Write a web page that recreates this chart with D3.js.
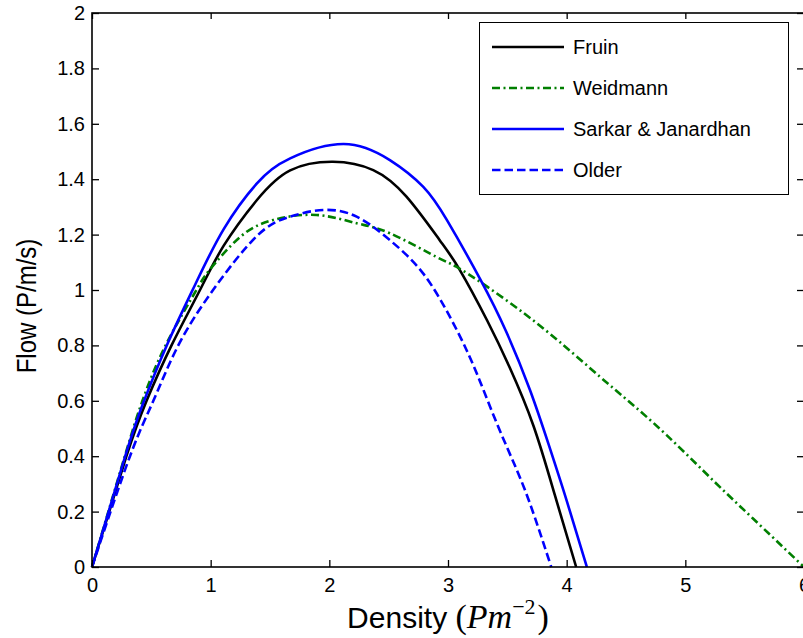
<!DOCTYPE html>
<html>
<head>
<meta charset="utf-8">
<script src="https://cdn.jsdelivr.net/npm/d3@7"></script>
<style>
  body { margin: 0; background: #fff; }
  text { font-family: "Liberation Sans", Arial, sans-serif; }
</style>
</head>
<body>
<div id="vis"></div>
<script>
// values (density in P/m^2, flow in P/m/s)
const fruinK = [0, 0.29, 0.46, 0.67, 0.91, 1.11, 1.39, 1.67, 2.03, 2.37, 2.65, 2.93, 3.10, 3.33, 3.52, 3.72, 3.90, 4.08];
const fruinQ = [0, 0.4, 0.6, 0.8, 1.0, 1.16, 1.325, 1.432, 1.463, 1.433, 1.337, 1.18, 1.072, 0.89, 0.72, 0.51, 0.26, 0];

const weidK = [0, 0.28, 0.425, 0.62, 0.88, 0.99, 1.25, 1.53, 1.89, 2.23, 2.51, 2.9, 3.07, 3.33, 3.64, 3.94, 4.28, 4.51, 4.84, 5.24, 5.57, 6.0];
const weidQ = [0, 0.405, 0.6, 0.8, 1.0, 1.072, 1.192, 1.253, 1.271, 1.241, 1.205, 1.12, 1.084, 1.012, 0.916, 0.813, 0.687, 0.603, 0.477, 0.31, 0.175, 0];

const sarkarK = [0, 0.28, 0.43, 0.63, 0.87, 1.11, 1.39, 1.67, 2.12, 2.51, 2.79, 2.99, 3.27, 3.49, 3.69, 3.85, 4.0, 4.17];
const sarkarQ = [0, 0.4, 0.59, 0.8, 1.02, 1.22, 1.385, 1.475, 1.527, 1.469, 1.373, 1.253, 1.04, 0.85, 0.64, 0.44, 0.24, 0];

const olderK = [0, 0.32, 0.517, 0.727, 1.02, 1.39, 1.67, 1.95, 2.23, 2.51, 2.79, 3.02, 3.16, 3.27, 3.41, 3.55, 3.69, 3.87];
const olderQ = [0, 0.4, 0.6, 0.8, 1.0, 1.195, 1.265, 1.289, 1.265, 1.18, 1.06, 0.9, 0.78, 0.67, 0.52, 0.38, 0.23, 0];

const seriesNames = ["Fruin", "Weidmann", "Sarkar & Janardhan", "Older"];
const xTicks = [0, 1, 2, 3, 4, 5, 6];
const yTicks = [0, 0.2, 0.4, 0.6, 0.8, 1, 1.2, 1.4, 1.6, 1.8, 2];

const colors = ["#000000", "#007f00", "#0000ff", "#0000ff"];
const dashes = [null, "8,3.5,2,3.5", null, "8.5,4"];

const series = [
    {name: seriesNames[0], pts: fruinK.map((k, i) => [k, fruinQ[i]])},
    {name: seriesNames[1], pts: weidK.map((k, i) => [k, weidQ[i]])},
    {name: seriesNames[2], pts: sarkarK.map((k, i) => [k, sarkarQ[i]])},
    {name: seriesNames[3], pts: olderK.map((k, i) => [k, olderQ[i]])}
];

const svg = d3.select("#vis").append("svg")
    .attr("width", 803).attr("height", 638);

const x = d3.scaleLinear().domain([0, 6]).range([92, 804]);
const y = d3.scaleLinear().domain([0, 2]).range([567, 13]);

// curves (drawn first so the frame sits on top)
const line = d3.line()
    .x(d => x(d[0]))
    .y(d => y(d[1]))
    .curve(d3.curveNatural);

svg.selectAll(".curve")
    .data(series)
    .join("path")
    .attr("class", "curve")
    .attr("d", d => line(d.pts))
    .attr("fill", "none")
    .attr("stroke", (_, i) => colors[i])
    .attr("stroke-width", 2.6)
    .attr("stroke-dasharray", (_, i) => dashes[i]);

// axes, ticks pointing inward
svg.append("g")
    .attr("transform", "translate(0,567)")
    .call(d3.axisBottom(x).tickValues(xTicks).tickSize(-7).tickPadding(11).tickFormat(d3.format("d")))
    .call(g => g.select(".domain").remove())
    .call(g => g.selectAll("text").style("font-size", "20px").attr("fill", "#000"));

svg.append("g")
    .attr("transform", "translate(92,0)")
    .call(d3.axisLeft(y).tickValues(yTicks).tickSize(-7).tickPadding(7).tickFormat(d => d3.format("")(+d.toFixed(1))))
    .call(g => g.select(".domain").remove())
    .call(g => g.selectAll("text").style("font-size", "20px").attr("fill", "#000"));

svg.append("g")
    .attr("transform", "translate(0,13)")
    .call(d3.axisTop(x).tickValues(xTicks).tickSize(-6).tickFormat(""))
    .call(g => g.select(".domain").remove());

svg.append("g")
    .attr("transform", "translate(804,0)")
    .call(d3.axisRight(y).tickValues(yTicks).tickSize(-7).tickFormat(""))
    .call(g => g.select(".domain").remove());

svg.selectAll(".tick line").attr("stroke", "#000").attr("stroke-width", 1.3);

svg.append("rect")
    .attr("x", 92).attr("y", 13)
    .attr("width", 804 - 92).attr("height", 567 - 13)
    .attr("fill", "none")
    .attr("stroke", "#000")
    .attr("stroke-width", 1.6);

// axis labels
const xl = svg.append("text")
    .attr("x", 448).attr("y", 628)
    .attr("text-anchor", "middle")
    .style("font-size", "30px")
    .attr("fill", "#000");
xl.append("tspan").text("Density ");
xl.append("tspan").text("(").style("font-family", "Liberation Serif, serif").style("font-size", "34px");
xl.append("tspan").text("Pm").style("font-family", "Liberation Serif, serif").style("font-style", "italic").style("font-size", "34px");
xl.append("tspan").text("\u22122").attr("dy", -14).style("font-size", "22px").style("font-family", "Liberation Serif, serif");
xl.append("tspan").text(")").attr("dy", 14).attr("dx", 2).style("font-family", "Liberation Serif, serif").style("font-size", "34px");

svg.append("text")
    .attr("transform", "translate(36,306) rotate(-90) scale(1,1.15)")
    .attr("text-anchor", "middle")
    .style("font-size", "24px")
    .attr("fill", "#000")
    .text("Flow (P/m/s)");

// legend
const legend = svg.append("g");
legend.append("rect")
    .attr("x", 479.5).attr("y", 22.5)
    .attr("width", 309).attr("height", 172)
    .attr("fill", "#fff")
    .attr("stroke", "#000")
    .attr("stroke-width", 1);

const rows = legend.selectAll(".entry")
    .data(seriesNames)
    .join("g")
    .attr("class", "entry")
    .attr("transform", (_, i) => `translate(0, ${47 + i * 41})`);

rows.append("line")
    .attr("x1", 492).attr("x2", 564)
    .attr("stroke", (_, i) => colors[i])
    .attr("stroke-width", 2.6)
    .attr("stroke-dasharray", (_, i) => dashes[i]);

rows.append("text")
    .attr("x", 573).attr("y", 7)
    .style("font-size", "20px")
    .attr("fill", "#000")
    .text(d => d);
</script>
</body>
</html>
